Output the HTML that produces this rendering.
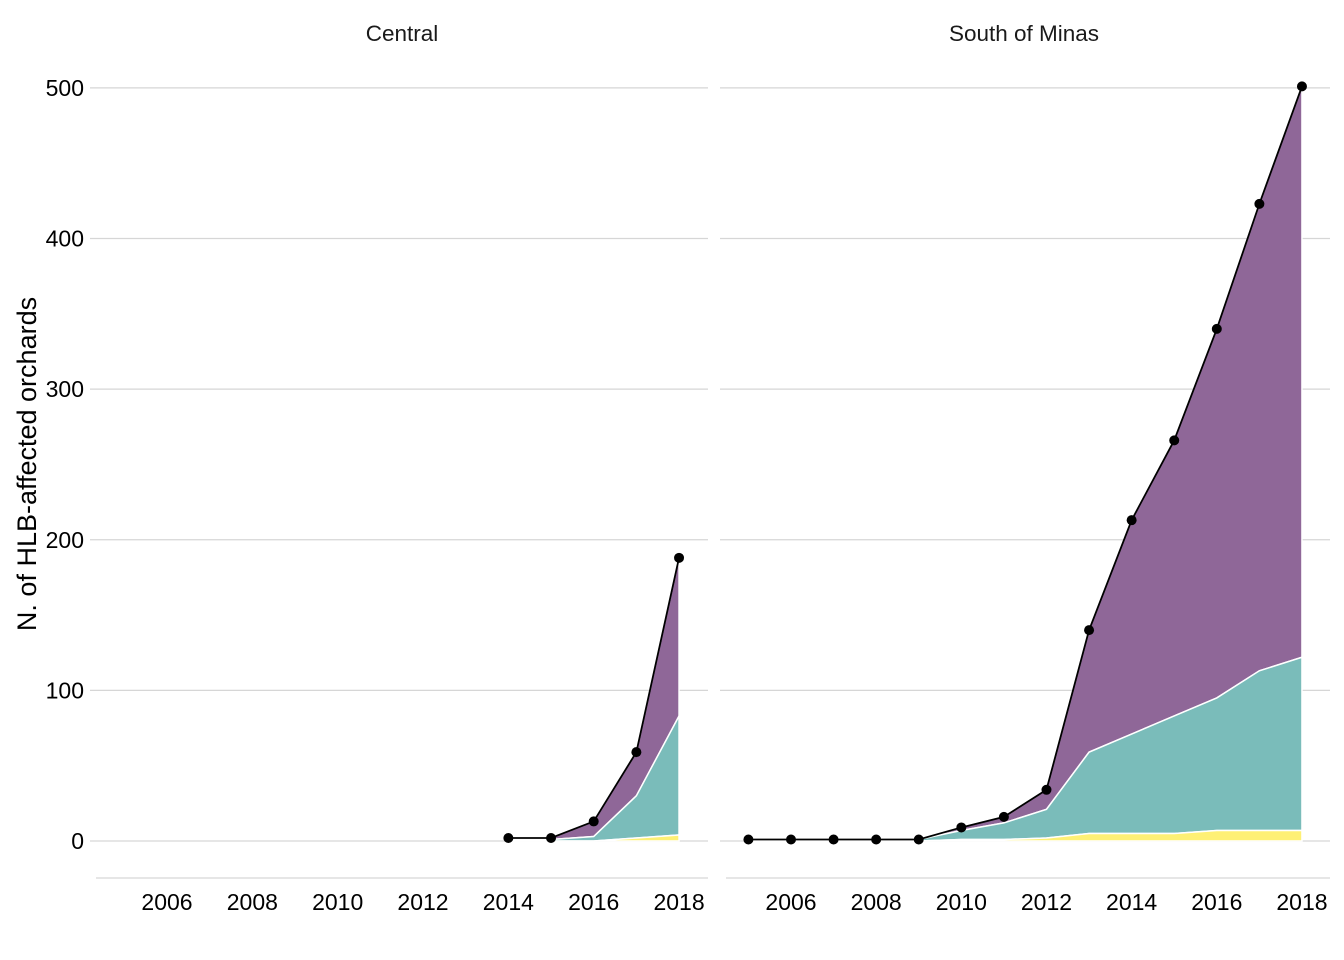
<!DOCTYPE html>
<html><head><meta charset="utf-8"><style>
body{margin:0;background:#fff}
svg{display:block;font-family:"Liberation Sans",Arial,sans-serif}
</style></head><body>
<svg id="chart" width="1344" height="960">
<text x="36" y="464" transform="rotate(-90 36 464)" text-anchor="middle" font-size="27" fill="#000">N. of HLB-affected orchards</text>
</svg>
<script>
const yTicks=[0,100,200,300,400,500];
const xTicks=[2006,2008,2010,2012,2014,2016,2018];
const panelNames=["Central","South of Minas"];
const yearsC=[2014,2015,2016,2017,2018];
const yellowC=[0,0,0,2,4];
const tealC=[1,1,3,28,79];
const purpleC=[1,1,10,29,105];
const yearsS=[2005,2006,2007,2008,2009,2010,2011,2012,2013,2014,2015,2016,2017,2018];
const yellowS=[0,0,0,0,0,1,1,2,5,5,5,7,7,7];
const tealS=[1,1,1,1,1,6,11,19,54,66,78,88,106,115];
const purpleS=[0,0,0,0,0,2,4,13,81,142,183,245,310,379];

const svg=document.getElementById('chart');
const NS='http://www.w3.org/2000/svg';
function mk(t,a,p){const e=document.createElementNS(NS,t);for(const k in a)e.setAttribute(k,a[k]);(p||svg).appendChild(e);return e;}
const y=v=>841-v*1.5062;
const panels=[
 {name:panelNames[0],cx:402,x0:90,x1:708,xf:v=>167+(v-2006)*42.67,yrs:yearsC,ye:yellowC,te:tealC,pu:purpleC,key:'central'},
 {name:panelNames[1],cx:1024,x0:720,x1:1330,xf:v=>791+(v-2006)*42.58,yrs:yearsS,ye:yellowS,te:tealS,pu:purpleS,key:'south'}
];
panels.forEach((P,pi)=>{
 const g=mk('g',{});
 
 
 const st=mk('text',{x:P.cx,y:41,'text-anchor':'middle','font-size':'22.5',fill:'#1a1a1a'},g);
 st.textContent=P.name;
 
 
 yTicks.forEach(t=>{
  const l=mk('line',{x1:P.x0,x2:P.x1,y1:y(t),y2:y(t),stroke:'#d6d6d6','stroke-width':1.3},g);
  
  
  if(pi===0){
   const tx=mk('text',{x:84,y:y(t)+8,'text-anchor':'end','font-size':'23',fill:'#000'},g);
   tx.textContent=t;
   
   
  }
 });
 const ax=mk('line',{x1:P.x0+6,x2:P.x1,y1:878,y2:878,stroke:'#d6d6d6','stroke-width':1.3},g);
 
 
 xTicks.forEach(t=>{
  const tx=mk('text',{x:P.xf(t),y:910,'text-anchor':'middle','font-size':'23',fill:'#000'},g);
  tx.textContent=t;
  
  
 });
 const n=P.yrs.length;
 const c1=[],c2=[],c3=[];
 for(let i=0;i<n;i++){c1.push(P.ye[i]);c2.push(P.ye[i]+P.te[i]);c3.push(P.ye[i]+P.te[i]+P.pu[i]);}
 function area(lo,hi,fill,nm){
  let d='';
  for(let i=0;i<n;i++)d+=(i?'L':'M')+P.xf(P.yrs[i])+','+y(hi[i]);
  for(let i=n-1;i>=0;i--)d+='L'+P.xf(P.yrs[i])+','+y(lo[i]);
  const a=mk('path',{d:d+'Z',fill:fill,stroke:'#fff','stroke-width':1.5},g);
  
  
 }
 const zero=new Array(n).fill(0);
 area(c2,c3,'#8f6798','area-purple');
 area(c1,c2,'#7abcba','area-teal');
 area(zero,c1,'#fef075','area-yellow');
 let d='';
 for(let i=0;i<n;i++)d+=(i?'L':'M')+P.xf(P.yrs[i])+','+y(c3[i]);
 const ln=mk('path',{d:d,fill:'none',stroke:'#000','stroke-width':1.8},g);
 
 
 for(let i=0;i<n;i++){
  const c=mk('circle',{cx:P.xf(P.yrs[i]),cy:y(c3[i]),r:5,fill:'#000'},g);
  
  
 }
});
</script>
</body></html>
